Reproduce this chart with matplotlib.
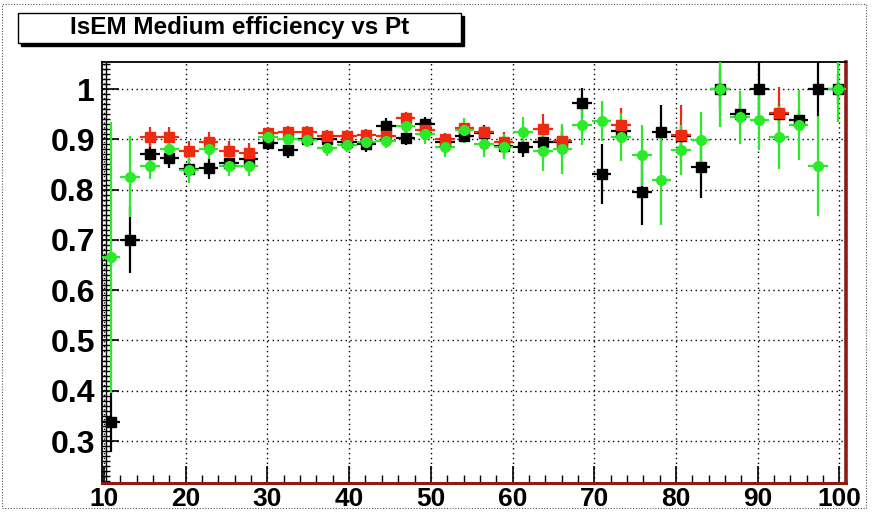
import numpy as np
import matplotlib
matplotlib.use("Agg")
import matplotlib.pyplot as plt
from matplotlib.patches import Rectangle
from matplotlib.ticker import MultipleLocator

plt.rcParams['font.family'] = ['Liberation Sans', 'DejaVu Sans']

# bin centres (Pt) and half bin width
pt = [10.8, 13.2, 15.6, 18.0, 20.4, 22.8, 25.3, 27.7, 30.1, 32.5, 34.9, 37.3, 39.7,
      42.1, 44.5, 46.9, 49.3, 51.7, 54.1, 56.5, 58.9, 61.3, 63.7, 66.1, 68.5, 70.9,
      73.3, 75.8, 78.2, 80.6, 83.0, 85.4, 87.8, 90.2, 92.6, 95.0, 97.4, 99.8]
half_bin = 1.2

eff_black = [0.338, 0.700, 0.870, 0.862, 0.840, 0.842, 0.853, 0.860, 0.893, 0.878,
             0.900, 0.900, 0.895, 0.890, 0.927, 0.903, 0.930, 0.895, 0.907, 0.913,
             0.886, 0.885, 0.895, 0.895, 0.972, 0.831, 0.917, 0.795, 0.914, 0.907,
             0.844, 1.000, 0.950, 1.000, 0.950, 0.938, 1.000, 1.000]
err_black = [0.06, 0.065, 0.02, 0.02, 0.02, 0.02, 0.02, 0.02, 0.015, 0.015,
             0.015, 0.015, 0.015, 0.015, 0.015, 0.015, 0.015, 0.015, 0.015, 0.015,
             0.02, 0.02, 0.02, 0.02, 0.03, 0.06, 0.02, 0.065, 0.055, 0.02,
             0.06, 0.04, 0.02, 0.06, 0.02, 0.02, 0.055, 0.03]

nan = np.nan
eff_red = [nan, nan, 0.905, 0.905, 0.877, 0.895, 0.877, 0.873, 0.913, 0.915,
           0.915, 0.907, 0.907, 0.908, 0.907, 0.942, 0.918, 0.900, 0.923, 0.915,
           0.895, nan, 0.920, 0.897, nan, nan, 0.928, nan, nan, 0.908,
           nan, nan, nan, nan, 0.953, nan, nan, nan]
err_red = [0, 0, 0.02, 0.02, 0.02, 0.02, 0.02, 0.02, 0.012, 0.012,
           0.012, 0.012, 0.012, 0.012, 0.012, 0.012, 0.012, 0.012, 0.012, 0.012,
           0.02, 0, 0.03, 0.03, 0, 0, 0.035, 0, 0, 0.06,
           0, 0, 0, 0, 0.05, 0, 0, 0]

eff_green = [0.665, 0.826, 0.847, 0.880, 0.839, 0.880, 0.847, 0.847, 0.905, 0.900,
             0.899, 0.882, 0.889, 0.895, 0.897, 0.926, 0.910, 0.884, 0.918, 0.890,
             0.885, 0.915, 0.877, 0.880, 0.928, 0.936, 0.904, 0.868, 0.819, 0.879,
             0.899, 1.000, 0.944, 0.938, 0.904, 0.928, 0.847, 1.000]
err_green = [0.27, 0.08, 0.025, 0.02, 0.025, 0.02, 0.02, 0.02, 0.015, 0.015,
             0.015, 0.015, 0.015, 0.015, 0.015, 0.015, 0.02, 0.02, 0.025, 0.025,
             0.025, 0.03, 0.04, 0.05, 0.04, 0.04, 0.048, 0.06, 0.09, 0.05,
             0.055, 0.075, 0.053, 0.06, 0.063, 0.07, 0.1, 0.065]

xticks = [10, 20, 30, 40, 50, 60, 70, 80, 90, 100]
yticks = [0.3, 0.4, 0.5, 0.6, 0.7, 0.8, 0.9, 1.0]
ytick_labels = ['0.3', '0.4', '0.5', '0.6', '0.7', '0.8', '0.9', '1']

W, H = 875, 512
fig = plt.figure(figsize=(W / 100, H / 100), dpi=100)
ax = fig.add_axes([101.7 / W, 1 - 482.5 / H, (846 - 101.7) / W, (482.5 - 62) / H])
ax.set_xlim(9.72, 100.8)
ax.set_ylim(0.2175, 1.0537)

ax.set_xticks(xticks)
ax.set_yticks(yticks)
ax.set_yticklabels(ytick_labels)
ax.xaxis.set_minor_locator(MultipleLocator(2))
ax.yaxis.set_minor_locator(MultipleLocator(0.01))
ax.tick_params(axis='both', which='both', direction='in', top=False, right=False, color='black')
ax.tick_params(axis='both', which='major', length=12, width=1.2)
ax.tick_params(axis='both', which='minor', length=6, width=1.0)
ax.tick_params(axis='y', labelsize=23, pad=5)
ax.tick_params(axis='x', labelsize=19, pad=3)
for lab in ax.get_xticklabels() + ax.get_yticklabels():
    lab.set_fontweight('bold')

ax.grid(True, which='major', color='black', linestyle=(0, (1, 2.5)), linewidth=1.0)
ax.set_axisbelow(True)

ax.spines['left'].set_color('black')
ax.spines['top'].set_color('black')
ax.spines['left'].set_linewidth(1.3)
ax.spines['top'].set_linewidth(1.3)
ax.spines['right'].set_color('#8e1a14')
ax.spines['right'].set_linewidth(2.6)
ax.spines['bottom'].set_color('#8e1a14')
ax.spines['bottom'].set_linewidth(2.2)
ax.axvline(10.25, color='black', linewidth=1.0, zorder=2)

kw = dict(xerr=half_bin, linestyle='none', elinewidth=1.6, capsize=0, zorder=3)
ax.errorbar(pt, eff_black, yerr=err_black, fmt='s', color='black', ms=6.5, **kw)
ax.errorbar(pt, eff_red, yerr=err_red, fmt='s', color='#ee2a10', ms=6.5, **kw)
ax.errorbar(pt, eff_green, yerr=err_green, fmt='o', color='#2aea2a', ms=7, **kw)

# canvas dotted border
fig.add_artist(Rectangle((2 / W, 1 - 508 / H), 864 / W, 504 / H, transform=fig.transFigure,
                         fill=False, edgecolor='#555555', linestyle=(0, (1, 1.5)), linewidth=0.8))

# title box with shadow
bx0, by0, bx1, by1 = 18, 12.5, 461, 42.5
bw, bh = (bx1 - bx0) / W, (by1 - by0) / H
fig.add_artist(Rectangle(((bx0 + 3) / W, 1 - (by1 + 3) / H), bw, bh, transform=fig.transFigure,
                         facecolor='black', edgecolor='black', zorder=5))
fig.add_artist(Rectangle((bx0 / W, 1 - by1 / H), bw, bh, transform=fig.transFigure,
                         facecolor='white', edgecolor='black', linewidth=1.0, zorder=6))
fig.text((bx0 + bx1) / 2 / W, 1 - (by0 + by1) / 2 / H, 'IsEM Medium efficiency vs Pt',
         ha='center', va='center', fontsize=17.5, fontweight='bold', zorder=7)

fig.savefig('out.png', dpi=100)
